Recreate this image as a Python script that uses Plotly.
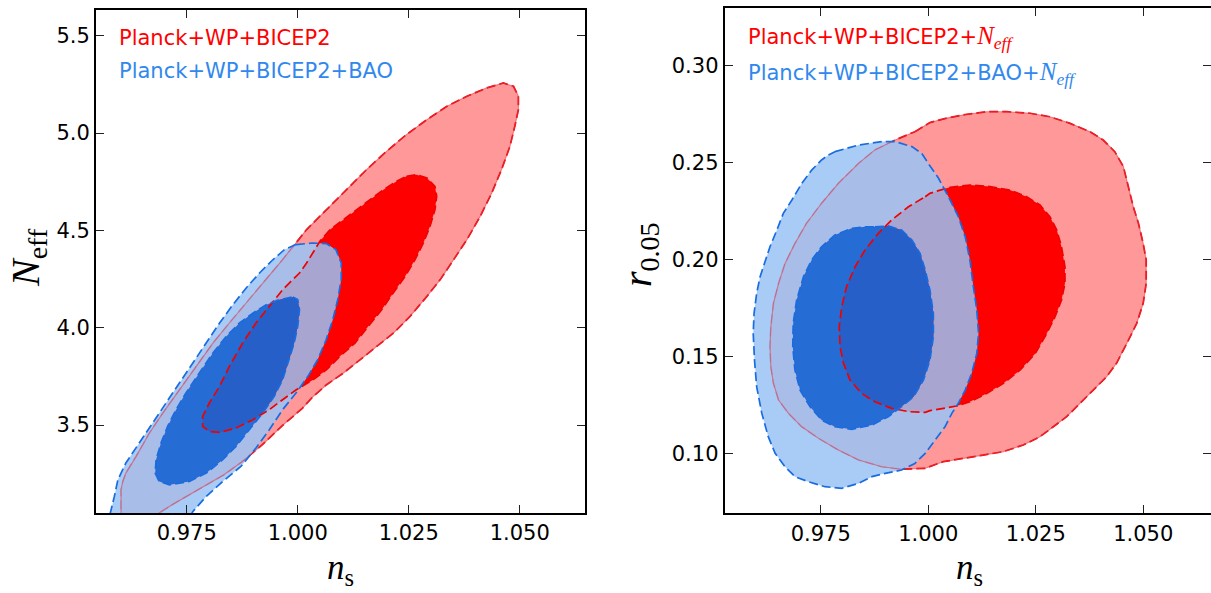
import plotly.graph_objects as go

W, H = 1211, 593

# ---------------- Left panel: n_s vs N_eff ----------------
L_RED_OUT_NS = [0.9602, 0.9602, 0.9606, 0.9613, 0.9636, 0.9666, 0.9696, 0.9733, 0.9771, 0.9809, 0.9846,
                0.9884, 0.9921, 0.9966, 1.0020, 1.0065, 1.0110, 1.0155, 1.0200, 1.0245, 1.0291, 1.0336,
                1.0381, 1.0426, 1.0463, 1.0486, 1.0497, 1.0497, 1.0489, 1.0478, 1.0459, 1.0437, 1.0411,
                1.0381, 1.0351, 1.0321, 1.0291, 1.0253, 1.0216, 1.0178, 1.0140, 1.0103, 1.0065, 1.0035,
                1.0011, 0.9966, 0.9921, 0.9874, 0.9833, 0.9794, 0.9756, 0.9718, 0.9688, 0.9660]
L_RED_OUT_N = [3.00, 3.167, 3.21, 3.253, 3.339, 3.459, 3.561, 3.681, 3.801, 3.921, 4.024,
               4.127, 4.230, 4.350, 4.504, 4.606, 4.709, 4.812, 4.906, 4.992, 5.069, 5.137,
               5.189, 5.232, 5.257, 5.240, 5.189, 5.120, 5.035, 4.932, 4.812, 4.692, 4.572,
               4.452, 4.349, 4.247, 4.161, 4.058, 3.973, 3.904, 3.836, 3.767, 3.707, 3.647,
               3.587, 3.498, 3.400, 3.310, 3.243, 3.190, 3.142, 3.092, 3.048, 3.00]

L_RED_IN_NS = [1.0245, 1.0268, 1.0291, 1.0309, 1.0313, 1.0309, 1.0298, 1.0283, 1.0264, 1.0242, 1.0215,
               1.0189, 1.0159, 1.0129, 1.0095, 1.0065, 1.0035, 0.9996, 0.9966, 0.9936, 0.9899, 0.9861,
               0.9824, 0.9801, 0.9786, 0.9786, 0.9801, 0.9824, 0.9846, 0.9876, 0.9906, 0.9936, 0.9966,
               1.0004, 1.0020, 1.0050, 1.0073, 1.0103, 1.0133, 1.0163, 1.0193, 1.0223]
L_RED_IN_N = [4.778, 4.786, 4.769, 4.726, 4.675, 4.606, 4.521, 4.435, 4.349, 4.264, 4.178,
              4.092, 4.007, 3.921, 3.853, 3.784, 3.733, 3.680, 3.630, 3.579, 3.527, 3.484,
              3.462, 3.467, 3.493, 3.544, 3.613, 3.699, 3.801, 3.921, 4.024, 4.110, 4.195,
              4.281, 4.332, 4.444, 4.504, 4.555, 4.606, 4.658, 4.709, 4.752]

L_BLUE_OUT_NS = [0.9996, 1.0034, 1.0064, 1.0086, 1.0098, 1.0098, 1.0090, 1.0079, 1.0064, 1.0045, 1.0023,
                 0.9996, 0.9966, 0.9936, 0.9906, 0.9872, 0.9831, 0.9794, 0.9764, 0.9750, 0.9570, 0.9576,
                 0.9587, 0.9595, 0.9613, 0.9643, 0.9673, 0.9703, 0.9733, 0.9764, 0.9794, 0.9824, 0.9854,
                 0.9884, 0.9914, 0.9944, 0.9970]
L_BLUE_OUT_N = [4.427, 4.435, 4.432, 4.401, 4.332, 4.247, 4.144, 4.041, 3.938, 3.836, 3.750,
                3.664, 3.579, 3.476, 3.382, 3.287, 3.210, 3.133, 3.056, 3.00, 3.00, 3.030,
                3.133, 3.219, 3.305, 3.407, 3.510, 3.613, 3.716, 3.818, 3.921, 4.024, 4.118,
                4.204, 4.281, 4.349, 4.401]

L_BLUE_IN_NS = [0.9989, 1.0000, 1.0004, 1.0000, 0.9992, 0.9981, 0.9966, 0.9947, 0.9921, 0.9891, 0.9861,
                0.9831, 0.9794, 0.9756, 0.9711, 0.9688, 0.9679, 0.9681, 0.9692, 0.9707, 0.9726, 0.9748,
                0.9779, 0.9809, 0.9839, 0.9869, 0.9899, 0.9929, 0.9959]
L_BLUE_IN_N = [4.158, 4.144, 4.092, 4.007, 3.921, 3.836, 3.733, 3.647, 3.561, 3.476, 3.390,
               3.322, 3.253, 3.210, 3.193, 3.210, 3.253, 3.322, 3.407, 3.493, 3.579, 3.664,
               3.767, 3.870, 3.955, 4.024, 4.075, 4.118, 4.144]

# ---------------- Right panel: n_s vs r_0.05 ----------------
R_RED_OUT_NS = [0.9969, 1.0004, 1.0043, 1.0090, 1.0136, 1.0183, 1.0237, 1.0283, 1.0330, 1.0376, 1.0407,
                1.0434, 1.0454, 1.0465, 1.0477, 1.0489, 1.0500, 1.0507, 1.0507, 1.0500, 1.0485, 1.0462,
                1.0438, 1.0415, 1.0384, 1.0353, 1.0322, 1.0291, 1.0260, 1.0221, 1.0175, 1.0128, 1.0082,
                1.0035, 0.9993, 0.9938, 0.9892, 0.9838, 0.9791, 0.9745, 0.9706, 0.9675, 0.9652, 0.9640,
                0.9634, 0.9632, 0.9634, 0.9640, 0.9652, 0.9667, 0.9690, 0.9717, 0.9752, 0.9791, 0.9838,
                0.9876, 0.9923]
R_RED_OUT_R = [0.2658, 0.2705, 0.2728, 0.2748, 0.2761, 0.2761, 0.2753, 0.2735, 0.2701, 0.2658, 0.2615,
               0.2555, 0.2478, 0.2375, 0.2271, 0.2186, 0.2082, 0.1997, 0.1876, 0.1773, 0.1670, 0.1567,
               0.1464, 0.1395, 0.1326, 0.1258, 0.1189, 0.1137, 0.1086, 0.1043, 0.1009, 0.0991, 0.0974,
               0.0957, 0.0923, 0.0918, 0.0931, 0.0966, 0.1017, 0.1077, 0.1137, 0.1206, 0.1275, 0.1361,
               0.1447, 0.1550, 0.1653, 0.1773, 0.1876, 0.1979, 0.2082, 0.2186, 0.2289, 0.2392, 0.2495,
               0.2564, 0.2615]

R_RED_IN_NS = [0.9993, 1.0004, 1.0028, 1.0051, 1.0097, 1.0144, 1.0190, 1.0229, 1.0260, 1.0283, 1.0299,
               1.0310, 1.0318, 1.0318, 1.0310, 1.0295, 1.0276, 1.0249, 1.0214, 1.0175, 1.0136, 1.0097,
               1.0066, 1.0035, 1.0004, 0.9993, 0.9954, 0.9915, 0.9876, 0.9845, 0.9818, 0.9803, 0.9795,
               0.9793, 0.9799, 0.9810, 0.9830, 0.9853, 0.9884, 0.9915, 0.9954]
R_RED_IN_R = [0.2323, 0.2340, 0.2357, 0.2371, 0.2383, 0.2375, 0.2357, 0.2323, 0.2280, 0.2220, 0.2151,
              0.2065, 0.1962, 0.1876, 0.1790, 0.1704, 0.1619, 0.1515, 0.1430, 0.1361, 0.1309, 0.1266,
              0.1244, 0.1232, 0.1220, 0.1211, 0.1215, 0.1232, 0.1266, 0.1309, 0.1378, 0.1464, 0.1550,
              0.1653, 0.1756, 0.1859, 0.1962, 0.2048, 0.2134, 0.2203, 0.2271]

R_BLUE_OUT_NS = [0.9783, 0.9838, 0.9892, 0.9923, 0.9962, 0.9985, 1.0000, 1.0024, 1.0047, 1.0070, 1.0086,
                 1.0097, 1.0105, 1.0113, 1.0117, 1.0113, 1.0101, 1.0086, 1.0070, 1.0055, 1.0039, 1.0016,
                 0.9993, 0.9969, 0.9938, 0.9900, 0.9869, 0.9838, 0.9799, 0.9760, 0.9721, 0.9690, 0.9667,
                 0.9644, 0.9628, 0.9613, 0.9601, 0.9596, 0.9593, 0.9595, 0.9601, 0.9609, 0.9621, 0.9632,
                 0.9648, 0.9663, 0.9683, 0.9706, 0.9729, 0.9752, 0.9768]
R_BLUE_OUT_R = [0.2555, 0.2589, 0.2607, 0.2607, 0.2581, 0.2546, 0.2495, 0.2418, 0.2323, 0.2220, 0.2117,
                0.1997, 0.1859, 0.1739, 0.1619, 0.1515, 0.1412, 0.1326, 0.1258, 0.1206, 0.1137, 0.1069,
                0.1000, 0.0948, 0.0914, 0.0897, 0.0880, 0.0845, 0.0820, 0.0828, 0.0854, 0.0880, 0.0931,
                0.1000, 0.1086, 0.1206, 0.1344, 0.1481, 0.1619, 0.1722, 0.1825, 0.1911, 0.1997, 0.2065,
                0.2151, 0.2237, 0.2306, 0.2392, 0.2460, 0.2512, 0.2538]

R_BLUE_IN_NS = [0.9876, 0.9907, 0.9938, 0.9962, 0.9981, 0.9993, 1.0004, 1.0012, 1.0012, 1.0004, 0.9989,
                0.9966, 0.9938, 0.9907, 0.9869, 0.9822, 0.9783, 0.9752, 0.9725, 0.9702, 0.9690, 0.9685,
                0.9686, 0.9694, 0.9710, 0.9729, 0.9752, 0.9783, 0.9822, 0.9853]
R_BLUE_IN_R = [0.2168, 0.2172, 0.2151, 0.2100, 0.2031, 0.1945, 0.1842, 0.1722, 0.1601, 0.1481, 0.1378,
               0.1292, 0.1241, 0.1189, 0.1146, 0.1124, 0.1137, 0.1172, 0.1241, 0.1326, 0.1430, 0.1550,
               0.1670, 0.1790, 0.1911, 0.1997, 0.2065, 0.2125, 0.2160, 0.2168]

X_TICKS = [0.975, 1.000, 1.025, 1.050]
L_Y_TICKS = [3.5, 4.0, 4.5, 5.0, 5.5]
R_Y_TICKS = [0.10, 0.15, 0.20, 0.25, 0.30]

L_LABELS = ["Planck+WP+BICEP2", "Planck+WP+BICEP2+BAO"]
R_LABELS = ["Planck+WP+BICEP2+", "Planck+WP+BICEP2+BAO+"]

# ---------------- styles ----------------
RED_LIGHT = "rgb(255,153,153)"
RED_DARK = "rgb(255,0,0)"
BLUE_LIGHT = "rgba(153,195,245,0.85)"
BLUE_DARK = "rgba(17,104,219,0.914)"
RED_LINE = "rgb(240,0,0)"
BLUE_LINE = "rgb(24,108,226)"
TEXT_BLUE = "rgb(48,136,238)"
DASH = "9px,4px"
SERIF = "Liberation Serif, DejaVu Serif, serif"
SANS = "DejaVu Sans, sans-serif"


def closed(xs, ys):
    return list(xs) + [xs[0]], list(ys) + [ys[0]]


def band(ox, oy, ix, iy):
    ax, ay = closed(ox, oy)
    bx, by = closed(list(ix)[::-1], list(iy)[::-1])
    return ax + [None] + bx, ay + [None] + by


fig = go.Figure()


def add_panel(xa, ya, red_out, red_in, blue_out, blue_in):
    def fill(xy, color):
        x, y = closed(*xy)
        fig.add_trace(go.Scatter(x=x, y=y, xaxis=xa, yaxis=ya, mode="lines", fill="toself",
                                 fillcolor=color, line=dict(width=0), hoverinfo="skip",
                                 showlegend=False))

    def outline(xy, color, width=1.7, dash=DASH):
        x, y = closed(*xy)
        fig.add_trace(go.Scatter(x=x, y=y, xaxis=xa, yaxis=ya, mode="lines",
                                 line=dict(color=color, width=width, dash=dash),
                                 hoverinfo="skip", showlegend=False))

    fill(red_out, RED_LIGHT)
    fill(red_in, RED_DARK)
    outline(red_out, RED_LINE)
    bx, by = band(blue_out[0], blue_out[1], blue_in[0], blue_in[1])
    fig.add_trace(go.Scatter(x=bx, y=by, xaxis=xa, yaxis=ya, mode="lines", fill="toself",
                             fillcolor=BLUE_LIGHT, line=dict(width=0), hoverinfo="skip",
                             showlegend=False))
    fill(blue_in, BLUE_DARK)
    outline(red_out, "rgba(225,60,80,0.6)", width=1.1, dash="solid")
    outline(red_in, RED_LINE)
    outline(blue_out, BLUE_LINE)
    outline(blue_in, BLUE_LINE)


add_panel("x", "y", (L_RED_OUT_NS, L_RED_OUT_N), (L_RED_IN_NS, L_RED_IN_N),
          (L_BLUE_OUT_NS, L_BLUE_OUT_N), (L_BLUE_IN_NS, L_BLUE_IN_N))
add_panel("x2", "y2", (R_RED_OUT_NS, R_RED_OUT_R), (R_RED_IN_NS, R_RED_IN_R),
          (R_BLUE_OUT_NS, R_BLUE_OUT_R), (R_BLUE_IN_NS, R_BLUE_IN_R))
# anchor trace for the right-hand tick axis
fig.add_trace(go.Scatter(x=[None], y=[None], xaxis="x2", yaxis="y3", mode="lines",
                         showlegend=False, hoverinfo="skip"))

tickfont = dict(family=SANS, size=21, color="black")
common = dict(showgrid=False, zeroline=False, ticks="inside", ticklen=8, tickwidth=1,
              tickcolor="#222", showline=True, linecolor="black", linewidth=2,
              tickfont=tickfont)


def px_x(p):
    return p / W


def px_y(p):
    return 1 - p / H


fig.update_layout(
    width=W, height=H, autosize=False,
    margin=dict(l=0, r=0, t=0, b=0, pad=0),
    paper_bgcolor="white", plot_bgcolor="white",
    showlegend=False,
    xaxis=dict(domain=[px_x(96), px_x(585)], range=[0.95457, 1.0647], tickvals=X_TICKS,
               tickformat=".3f", mirror="ticks", anchor="y", **common),
    yaxis=dict(domain=[px_y(513), px_y(10)], range=[3.048, 5.632], tickvals=L_Y_TICKS,
               tickformat=".1f", mirror="ticks", anchor="x", **common),
    xaxis2=dict(domain=[px_x(724.7), 1.0], range=[0.95267, 1.06577], tickvals=X_TICKS,
                tickformat=".3f", mirror="ticks", anchor="y2", **common),
    yaxis2=dict(domain=[px_y(513.3), px_y(8.3)], range=[0.0691, 0.3294], tickvals=R_Y_TICKS,
                tickformat=".2f", mirror=False, anchor="x2", **common),
    yaxis3=dict(overlaying="y2", side="right", anchor="x2", range=[0.0691, 0.3294],
                tickvals=R_Y_TICKS, showticklabels=False, showline=False, showgrid=False,
                zeroline=False, ticks="inside", ticklen=8, tickwidth=1, tickcolor="#222"),
)

neff_leg = "<span style='font-family:Liberation Serif;font-size:25px'><i>N<sub>eff</sub></i></span>"
ann = [
    dict(x=px_x(117), y=px_y(38), text=L_LABELS[0], font=dict(family=SANS, size=21, color=RED_DARK)),
    dict(x=px_x(117), y=px_y(71), text=L_LABELS[1], font=dict(family=SANS, size=21, color=TEXT_BLUE)),
    dict(x=px_x(746), y=px_y(37), text=R_LABELS[0] + neff_leg,
         font=dict(family=SANS, size=21, color=RED_DARK)),
    dict(x=px_x(746), y=px_y(73), text=R_LABELS[1] + neff_leg,
         font=dict(family=SANS, size=21, color=TEXT_BLUE)),
]
for a in ann:
    a.update(xref="paper", yref="paper", xanchor="left", yanchor="middle", showarrow=False)

titles = [
    dict(x=px_x(340), y=px_y(569), text="<i>n</i><sub>s</sub>", textangle=0, size=35),
    dict(x=px_x(969), y=px_y(569), text="<i>n</i><sub>s</sub>", textangle=0, size=35),
    dict(x=px_x(28), y=px_y(258), text="<i>N</i><sub>eff</sub>", textangle=-90, size=40),
    dict(x=px_x(640), y=px_y(255), text="<i>r</i><sub>0.05</sub>", textangle=-90, size=40),
]
for t in titles:
    sz = t.pop("size")
    t.update(xref="paper", yref="paper", xanchor="center", yanchor="middle", showarrow=False,
             font=dict(family=SERIF, size=sz, color="black"))

fig.update_layout(annotations=ann + titles)
fig.write_html("out.html", config={"displayModeBar": False},
               post_script="document.body.style.margin='0px';")
